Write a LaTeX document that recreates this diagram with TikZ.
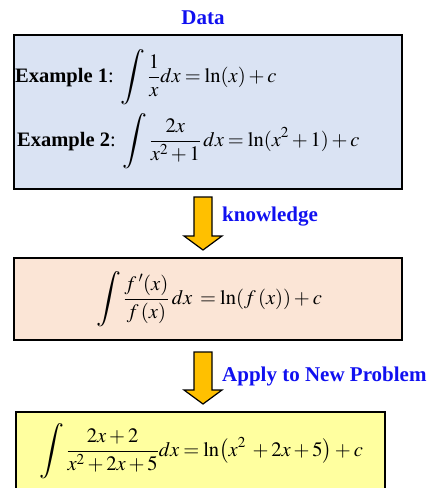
\documentclass[tikz,border=0pt]{standalone}
\usepackage[no-math]{fontspec}
\usepackage{mathptmx}
\usepackage{graphicx}
\newfontfamily\tms{Liberation Serif}
\usetikzlibrary{calc}
\definecolor{boxblue}{HTML}{DAE3F3}
\definecolor{boxpeach}{HTML}{FBE5D6}
\definecolor{boxyellow}{HTML}{FFFF9F}
\definecolor{arrowgold}{HTML}{FFC000}
\definecolor{labelblue}{HTML}{1010F0}
\newcommand{\myint}{\mathop{\vcenter{\hbox{\scalebox{1.35}{$\displaystyle\int$}}}}\nolimits}
\newcommand{\nup}{\rule[-4pt]{0pt}{4pt}}
\newcommand{\dnp}{\rule{0pt}{17pt}}
\newcommand{\tightsp}{\medmuskip=2.5mu\relax\thickmuskip=3.5mu\relax}
\tikzset{
  panel/.style={draw=black, line width=1.6pt, anchor=north west, inner sep=0pt},
  lbl/.style={text=labelblue, font=\tms\fontsize{21}{24}\selectfont\bfseries, inner sep=0pt},
  eq/.style={font=\tms\fontsize{20.5}{24}\selectfont, inner sep=0pt, anchor=west},
  bigarrow/.style={draw=black, line width=1.2pt, fill=arrowgold, line join=miter},
}
\begin{document}
\begin{tikzpicture}[x=1pt,y=-1pt]
\useasboundingbox (0,0) rectangle (427,488);
\clip (0,0) rectangle (427,488);
% Data box
\node[lbl] (datalbl) at (203,18) {Data};
\node[panel, fill=boxblue, minimum width=388pt, minimum height=154pt] (box1) at (13,34) {};
\node[eq] (ex1) at (15,77) {\textbf{Example 1}: $\tightsp\displaystyle\myint\frac{1\nup}{x\dnp}dx=\ln(x)+c$};
\node[eq] (ex2) at (17,141) {\textbf{Example 2}: $\tightsp\displaystyle\myint\frac{2x\nup}{x^{2}+1\dnp}\,dx=\ln(x^{2}+1)+c$};
% arrow 1
\coordinate (a1) at (203,197);
\draw[bigarrow] ($(a1)+(-9,0)$) -- ++(18,0) -- ++(0,39) -- ++(10,0) -- ($(a1)+(0,53)$) -- ($(a1)+(-19,39)$) -- ++(10,0) -- cycle;
\node[lbl, anchor=west] (knowl) at (222,217) {knowledge};
% knowledge box
\node[panel, fill=boxpeach, minimum width=388pt, minimum height=82pt] (box2) at (13,257) {};
\node[eq] (rule) at (96,299) {$\tightsp\displaystyle\myint\frac{f\,'(x)\nup}{f\,(x)\dnp}\,dx\;=\ln(f\,(x))+c$};
% arrow 2
\coordinate (a2) at (203,352);
\draw[bigarrow] ($(a2)+(-9,0)$) -- ++(18,0) -- ++(0,38) -- ++(10,0) -- ($(a2)+(0,52)$) -- ($(a2)+(-19,38)$) -- ++(10,0) -- cycle;
\node[lbl, anchor=west] (apply) at (222,376) {Apply to New Problem};
% new problem box
\node[panel, fill=boxyellow, minimum width=369pt, minimum height=95pt] (box3) at (15,411) {};
\node[eq] (newp) at (39,451) {$\tightsp\displaystyle\myint\frac{2x+2\nup}{x^{2}+2x+5\dnp}dx=\ln\!\left(x^{2}\;+2x+5\right)+c$};
\end{tikzpicture}
\end{document}
